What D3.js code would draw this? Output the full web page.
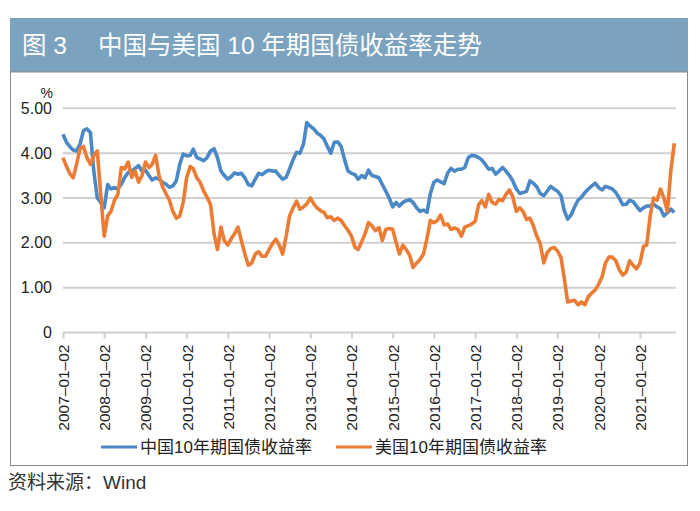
<!DOCTYPE html>
<html><head><meta charset="utf-8">
<script src="https://cdn.jsdelivr.net/npm/d3@7"></script>
<style>
body{margin:0;background:#fff;}
svg{display:block;font-family:"Liberation Sans","Noto Sans CJK SC",Arial,sans-serif;}
</style></head>
<body><svg id="c" width="700" height="511"></svg>
<script>
const titleNum = "图 3";
const titleText = "中国与美国 10 年期国债收益率走势";
const seriesNames = ["中国10年期国债收益率","美国10年期国债收益率"];
const startMonth = "2007-01-02";
const yTicks = [0,1,2,3,4,5];
const yTickLabels = ["0","1.00","2.00","3.00","4.00","5.00"];
const xTickLabels = ["2007-01-02","2008-01-02","2009-01-02","2010-01-02","2011-01-02","2012-01-02","2013-01-02","2014-01-02","2015-01-02","2016-01-02","2017-01-02","2018-01-02","2019-01-02","2020-01-02","2021-01-02"];
const china = [4.42,4.24,4.15,4.07,4.05,4.2,4.5,4.54,4.46,3.6,3.0,2.9,2.78,3.3,3.2,3.23,3.2,3.31,3.46,3.57,3.6,3.66,3.72,3.6,3.62,3.5,3.4,3.45,3.42,3.35,3.31,3.24,3.27,3.38,3.75,3.98,3.94,3.95,4.09,3.9,3.87,3.83,3.9,4.05,4.1,
3.9,3.6,3.5,3.42,3.48,3.56,3.53,3.55,3.45,3.3,3.27,3.42,3.55,3.52,3.58,3.62,3.6,3.6,3.5,3.42,3.46,3.65,3.85,4.02,4.0,4.2,4.68,4.6,4.54,4.45,4.4,4.32,4.15,4.0,4.24,4.25,4.15,3.85,3.6,3.55,3.52,3.42,3.5,3.45,
3.62,3.5,3.48,3.45,3.3,3.15,3.0,2.8,2.9,2.82,2.9,2.94,2.96,2.9,2.78,2.7,2.73,2.68,3.1,3.35,3.4,3.36,3.32,3.55,3.66,3.6,3.64,3.64,3.68,3.9,3.95,3.94,3.9,3.85,3.75,3.64,3.66,3.53,3.6,3.68,3.6,3.5,3.38,3.2,
3.1,3.12,3.15,3.38,3.33,3.25,3.1,3.05,3.15,3.26,3.2,3.15,3.05,2.72,2.53,2.62,2.8,2.95,3.02,3.12,3.2,3.27,3.33,3.23,3.18,3.26,3.23,3.2,3.12,3.0,2.85,2.86,2.95,2.92,2.82,2.72,2.78,2.82,2.82,2.86,2.8,2.76,2.6,2.67,2.75,2.68];
const us = [3.9,3.7,3.55,3.45,3.75,4.1,4.15,3.9,3.75,3.95,4.05,3.1,2.15,2.6,2.7,2.95,3.08,3.68,3.65,3.8,3.46,3.6,3.35,3.5,3.8,3.68,3.75,3.95,3.5,3.25,3.1,2.95,2.7,2.55,2.6,2.9,3.45,3.7,3.65,3.45,3.35,3.15,3.02,2.85,2.2,
1.85,2.35,2.05,1.95,2.1,2.2,2.35,2.05,1.75,1.5,1.55,1.75,1.8,1.7,1.7,1.85,1.98,2.08,1.95,1.75,2.15,2.6,2.78,2.93,2.75,2.8,2.87,3.0,2.87,2.78,2.72,2.68,2.56,2.58,2.5,2.55,2.5,2.38,2.28,2.15,1.9,1.85,2.02,2.2,
2.45,2.38,2.27,2.34,2.05,2.3,2.32,2.3,2.0,1.75,1.95,1.85,1.72,1.45,1.55,1.63,1.75,2.1,2.5,2.45,2.5,2.62,2.4,2.42,2.3,2.33,2.3,2.15,2.35,2.38,2.42,2.48,2.85,2.94,2.8,3.08,2.9,2.86,2.97,2.94,3.08,3.18,3.02,2.7,
2.78,2.7,2.52,2.55,2.38,2.15,1.98,1.55,1.78,1.87,1.9,1.82,1.67,1.22,0.68,0.7,0.72,0.62,0.68,0.62,0.8,0.88,0.95,1.08,1.25,1.55,1.68,1.68,1.6,1.4,1.28,1.35,1.6,1.5,1.42,1.55,1.92,1.95,2.6,3.0,2.95,3.2,3.0,2.7,3.6,4.22];
const sourceText = "资料来源：Wind";

const colors = ["#4a88c6","#ec7c33"];
const svg = d3.select("#c");
const parse = d3.timeParse("%Y-%m-%d");
const t0 = parse(startMonth);
const dates = china.map((_, i) => d3.timeMonth.offset(t0, i));

// title bar
svg.append("rect").attr("x",10).attr("y",18).attr("width",678).attr("height",54).attr("fill","#7ba3c0");
svg.append("text").attr("x",22).attr("y",54).attr("fill","#fff").attr("font-size",24.5).text(titleNum);
svg.append("text").attr("x",98).attr("y",54).attr("fill","#fff").attr("font-size",24.5).text(titleText);
// chart box
svg.append("rect").attr("x",10.5).attr("y",72).attr("width",677).attr("height",393.5).attr("fill","none").attr("stroke","#8a8a8a").attr("stroke-width",1);

const x = d3.scaleTime().domain([parse(xTickLabels[0]), parse(xTickLabels[xTickLabels.length-1])]).range([63, 640]);
const y = d3.scaleLinear().domain([0,5]).range([332.5,108.3]);

// gridlines
svg.append("g").selectAll("line").data(yTicks.slice(1)).join("line")
  .attr("x1",63).attr("x2",676).attr("y1",d=>y(d)).attr("y2",d=>y(d))
  .attr("stroke","#cfcfcf").attr("stroke-width",2);

// y labels
svg.append("g").selectAll("text").data(yTicks).join("text")
  .attr("x",52).attr("y",d=>y(d)).attr("dy","0.35em").attr("text-anchor","end")
  .attr("font-size",16).attr("fill","#222").text((d,i)=>yTickLabels[i]);
svg.append("text").attr("x",53).attr("y",93).attr("dy","0.35em").attr("text-anchor","end").attr("font-size",14).attr("fill","#222").text("%");

// x axis
const xAxis = d3.axisBottom(x).tickValues(xTickLabels.map(parse)).tickSize(6).tickFormat((d,i)=>xTickLabels[i].replace(/-/g,"–"));
const gx = svg.append("g").attr("transform","translate(0,332.5)").call(xAxis);
gx.select(".domain").remove();
gx.append("line").attr("x1",63).attr("x2",676).attr("stroke","#cfcfcf").attr("stroke-width",2);
gx.selectAll(".tick line").attr("stroke","#cfcfcf").attr("stroke-width",2);
gx.selectAll(".tick text").attr("transform","rotate(-90)").attr("text-anchor","end")
  .attr("x",-12).attr("y",0).attr("dy","0.35em").attr("font-size",15.5).attr("fill","#222")
  .attr("font-family","'Liberation Sans',Arial,sans-serif");

// lines
const line = d3.line().x((d,i)=>x(dates[i])).y(d=>y(d));
[china, us].forEach((s,k)=>{
  svg.append("path").datum(s).attr("d",line).attr("fill","none")
    .attr("stroke",colors[k]).attr("stroke-width",3.6).attr("stroke-linejoin","round");
});

// legend
const lg = [{x:101,tx:140},{x:336,tx:375}];
lg.forEach((l,k)=>{
  svg.append("line").attr("x1",l.x).attr("x2",l.x+36).attr("y1",447).attr("y2",447).attr("stroke",colors[k]).attr("stroke-width",3);
  svg.append("text").attr("x",l.tx).attr("y",447).attr("dy","0.35em").attr("font-size",17).attr("fill","#222").text(seriesNames[k]);
});

// source
svg.append("text").attr("x",8).attr("y",482).attr("dy","0.35em").attr("font-size",19).attr("fill","#333").text(sourceText);
</script></body></html>
